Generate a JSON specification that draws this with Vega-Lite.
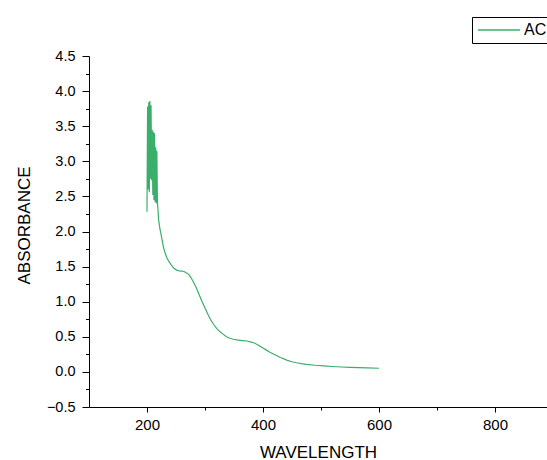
{
  "$schema": "https://vega.github.io/schema/vega-lite/v6.json",
  "width": 458,
  "height": 351,
  "autosize": {"type": "none"},
  "padding": {"left": 89, "top": 56, "right": 0, "bottom": 53},
  "background": "white",
  "config": {
    "view": {"stroke": null},
    "font": "Liberation Sans",
    "axis": {
      "grid": false,
      "domainColor": "black",
      "domainWidth": 1,
      "tickColor": "black",
      "tickWidth": 1,
      "labelColor": "black",
      "titleColor": "black",
      "labelFont": "Liberation Sans",
      "titleFont": "Liberation Sans",
      "titleFontWeight": "normal"
    }
  },
  "data": {
    "values": [
      {"w": 200, "a": 2.28, "s": "AC"},
      {"w": 201, "a": 3.78, "s": "AC"},
      {"w": 202, "a": 2.60, "s": "AC"},
      {"w": 203, "a": 3.84, "s": "AC"},
      {"w": 204, "a": 2.56, "s": "AC"},
      {"w": 205, "a": 3.86, "s": "AC"},
      {"w": 206, "a": 2.75, "s": "AC"},
      {"w": 207, "a": 3.80, "s": "AC"},
      {"w": 208, "a": 2.73, "s": "AC"},
      {"w": 209, "a": 3.45, "s": "AC"},
      {"w": 210, "a": 2.52, "s": "AC"},
      {"w": 211, "a": 3.42, "s": "AC"},
      {"w": 212, "a": 2.45, "s": "AC"},
      {"w": 213, "a": 3.40, "s": "AC"},
      {"w": 214, "a": 2.42, "s": "AC"},
      {"w": 215, "a": 3.20, "s": "AC"},
      {"w": 216, "a": 2.40, "s": "AC"},
      {"w": 217, "a": 3.15, "s": "AC"},
      {"w": 218, "a": 2.42, "s": "AC"},
      {"w": 219, "a": 2.30, "s": "AC"},
      {"w": 220, "a": 2.17, "s": "AC"},
      {"w": 222, "a": 2.05, "s": "AC"},
      {"w": 224, "a": 1.97, "s": "AC"},
      {"w": 226, "a": 1.88, "s": "AC"},
      {"w": 228, "a": 1.79, "s": "AC"},
      {"w": 231, "a": 1.70, "s": "AC"},
      {"w": 234, "a": 1.63, "s": "AC"},
      {"w": 238, "a": 1.57, "s": "AC"},
      {"w": 242, "a": 1.52, "s": "AC"},
      {"w": 246, "a": 1.48, "s": "AC"},
      {"w": 251, "a": 1.45, "s": "AC"},
      {"w": 256, "a": 1.44, "s": "AC"},
      {"w": 260, "a": 1.435, "s": "AC"},
      {"w": 264, "a": 1.43, "s": "AC"},
      {"w": 268, "a": 1.41, "s": "AC"},
      {"w": 272, "a": 1.39, "s": "AC"},
      {"w": 276, "a": 1.34, "s": "AC"},
      {"w": 280, "a": 1.28, "s": "AC"},
      {"w": 285, "a": 1.20, "s": "AC"},
      {"w": 290, "a": 1.10, "s": "AC"},
      {"w": 295, "a": 1.00, "s": "AC"},
      {"w": 300, "a": 0.91, "s": "AC"},
      {"w": 305, "a": 0.82, "s": "AC"},
      {"w": 310, "a": 0.74, "s": "AC"},
      {"w": 315, "a": 0.675, "s": "AC"},
      {"w": 320, "a": 0.62, "s": "AC"},
      {"w": 325, "a": 0.578, "s": "AC"},
      {"w": 330, "a": 0.545, "s": "AC"},
      {"w": 337, "a": 0.50, "s": "AC"},
      {"w": 343, "a": 0.48, "s": "AC"},
      {"w": 349, "a": 0.465, "s": "AC"},
      {"w": 355, "a": 0.455, "s": "AC"},
      {"w": 360, "a": 0.45, "s": "AC"},
      {"w": 366, "a": 0.445, "s": "AC"},
      {"w": 372, "a": 0.44, "s": "AC"},
      {"w": 378, "a": 0.428, "s": "AC"},
      {"w": 384, "a": 0.415, "s": "AC"},
      {"w": 390, "a": 0.39, "s": "AC"},
      {"w": 395, "a": 0.365, "s": "AC"},
      {"w": 400, "a": 0.34, "s": "AC"},
      {"w": 406, "a": 0.31, "s": "AC"},
      {"w": 412, "a": 0.28, "s": "AC"},
      {"w": 418, "a": 0.255, "s": "AC"},
      {"w": 424, "a": 0.23, "s": "AC"},
      {"w": 430, "a": 0.205, "s": "AC"},
      {"w": 436, "a": 0.185, "s": "AC"},
      {"w": 442, "a": 0.165, "s": "AC"},
      {"w": 450, "a": 0.145, "s": "AC"},
      {"w": 458, "a": 0.13, "s": "AC"},
      {"w": 466, "a": 0.118, "s": "AC"},
      {"w": 475, "a": 0.108, "s": "AC"},
      {"w": 490, "a": 0.095, "s": "AC"},
      {"w": 505, "a": 0.085, "s": "AC"},
      {"w": 520, "a": 0.077, "s": "AC"},
      {"w": 535, "a": 0.07, "s": "AC"},
      {"w": 550, "a": 0.065, "s": "AC"},
      {"w": 565, "a": 0.06, "s": "AC"},
      {"w": 580, "a": 0.056, "s": "AC"},
      {"w": 600, "a": 0.052, "s": "AC"}
    ]
  },
  "layer": [
    {
      "mark": {"type": "line", "opacity": 0},
      "encoding": {
        "x": {
          "field": "w", "type": "quantitative",
          "scale": {"domain": [100, 889.7], "nice": false, "zero": false},
          "axis": {
            "orient": "bottom",
            "values": [200, 400, 600, 800],
            "tickSize": 5,
            "labelFontSize": 15,
            "labelPadding": 5,
            "title": "WAVELENGTH",
            "titleFontSize": 17,
            "titleX": 229,
            "titleY": 50,
            "titleBaseline": "alphabetic",
            "titleAlign": "center"
          }
        },
        "y": {
          "field": "a", "type": "quantitative",
          "scale": {"domain": [-0.5, 4.5], "nice": false, "zero": false},
          "axis": {
            "orient": "left",
            "values": [-0.5, 0, 0.5, 1, 1.5, 2, 2.5, 3, 3.5, 4, 4.5],
            "format": ".1f",
            "tickSize": 7,
            "labelPadding": 7,
            "labelFontSize": 14.5,
            "title": "ABSORBANCE",
            "titleFontSize": 17,
            "titleX": -60,
            "titleY": 169,
            "titleBaseline": "alphabetic",
            "titleAlign": "center",
            "titleAngle": -90
          }
        }
      }
    },
    {
      "mark": {"type": "line", "strokeWidth": 1.2},
      "encoding": {
        "x": {
          "field": "w", "type": "quantitative",
          "scale": {"domain": [100, 889.7], "nice": false, "zero": false},
          "axis": {
            "orient": "bottom",
            "values": [300, 500, 700],
            "tickSize": 3,
            "labels": false,
            "domain": false,
            "title": null
          }
        },
        "y": {
          "field": "a", "type": "quantitative",
          "scale": {"domain": [-0.5, 4.5], "nice": false, "zero": false},
          "axis": {
            "orient": "left",
            "values": [-0.25, 0.25, 0.75, 1.25, 1.75, 2.25, 2.75, 3.25, 3.75, 4.25],
            "tickSize": 3.5,
            "labels": false,
            "domain": false,
            "title": null
          }
        },
        "color": {
          "field": "s", "type": "nominal",
          "scale": {"range": ["#3aaf6a"]},
          "legend": {
            "orient": "none",
            "legendX": 383,
            "legendY": -39,
            "title": null,
            "strokeColor": "black",
            "fillColor": "white",
            "padding": 5,
            "symbolType": "M-3,0H3",
            "symbolSize": 196,
            "symbolOffset": 14,
            "symbolStrokeWidth": 1.5,
            "labelFontSize": 16,
            "labelFont": "Liberation Sans",
            "labelColor": "black",
            "labelOffset": 17
          }
        }
      }
    }
  ],
  "resolve": {"axis": {"x": "independent", "y": "independent"}}
}
